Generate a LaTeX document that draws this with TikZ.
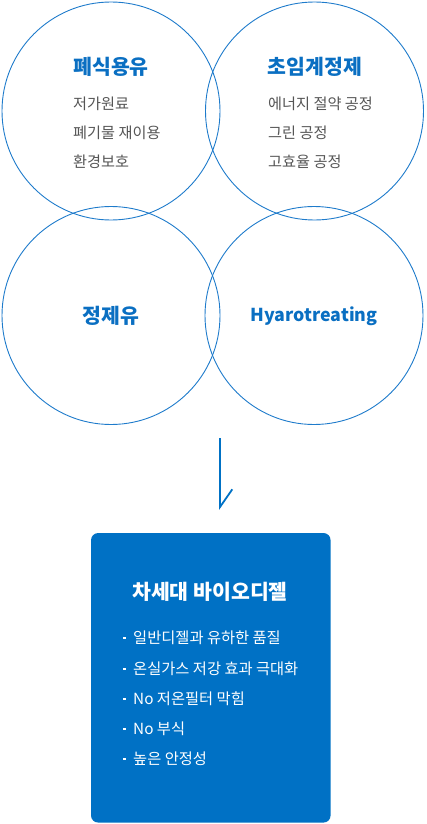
\documentclass[tikz,border=0pt]{standalone}
\usepackage{fontspec}
\setmainfont{Noto Sans CJK KR}
\definecolor{ringblue}{HTML}{1E7BCB}
\definecolor{titleblue}{HTML}{0A6FC2}
\definecolor{boxblue}{HTML}{0071C5}
\definecolor{subgray}{HTML}{555555}
\begin{document}
\begin{tikzpicture}[x=1pt,y=-1pt,
  ring/.style={circle,draw=ringblue,line width=0.9pt,minimum size=218pt,inner sep=0pt},
  ctitle/.style={font=\fontsize{20.5}{22}\selectfont\bfseries,text=titleblue,inner sep=0pt},
  ltitle/.style={font=\fontsize{17.8}{20}\selectfont\bfseries,text=titleblue,inner sep=0pt},
  csub/.style={font=\fontsize{15.2}{17}\selectfont,text=subgray,anchor=west,inner sep=0pt},
  bigbox/.style={fill=boxblue,rounded corners=7pt,inner sep=0pt},
  btitle/.style={font=\fontsize{20.5}{22}\selectfont\bfseries,text=white,inner sep=0pt},
  bitem/.style={font=\fontsize{15.3}{17}\selectfont,text=white,anchor=west,inner sep=0pt},
  bdot/.style={fill=white,minimum size=2.4pt,inner sep=0pt},
  arrowline/.style={draw=boxblue,line width=1.8pt}
]
\useasboundingbox (0,0) rectangle (426,824);
\node[ring] (c1) at (111,111) {};
\node[ring] (c2) at (314.5,111) {};
\node[ring] (c3) at (111,315.5) {};
\node[ring] (c4) at (314,315.5) {};

\node[ctitle] (t1) at (111,67) {폐식용유};
\node[csub] (s11) at (73,104) {저가원료};
\node[csub] (s12) at (73,133) {폐기물 재이용};
\node[csub] (s13) at (73,162) {환경보호};

\node[ctitle] (t2) at (315,67) {초임계정제};
\node[csub] (s21) at (268,104) {에너지 절약 공정};
\node[csub] (s22) at (268,133) {그린 공정};
\node[csub] (s23) at (268,162) {고효율 공정};

\node[ctitle] (t3) at (111,316) {정제유};
\node[ltitle] (t4) at (314,316) {Hyarotreating};

\coordinate (a1) at (220,438);
\coordinate (a2) at (220,507);
\coordinate (a3) at (232.3,489.3);
\draw[arrowline] (a1) -- (a2) -- (a3);

\node[bigbox,minimum width=239.5pt,minimum height=289.5pt] (box) at (210.8,677.8) {};
\node[btitle] (bt) at (210,592) {차세대 바이오디젤};
\node[bdot] (d1) at (124.5,638) {};
\node[bitem] (b1) at (133,638) {일반디젤과 유하한 품질};
\node[bdot] (d2) at (124.5,669) {};
\node[bitem] (b2) at (133,669) {온실가스 저강 효과 극대화};
\node[bdot] (d3) at (124.5,699) {};
\node[bitem] (b3) at (133,699) {No 저온필터 막힘};
\node[bdot] (d4) at (124.5,729) {};
\node[bitem] (b4) at (133,729) {No 부식};
\node[bdot] (d5) at (124.5,759) {};
\node[bitem] (b5) at (133,759) {높은 안정성};
\end{tikzpicture}
\end{document}
